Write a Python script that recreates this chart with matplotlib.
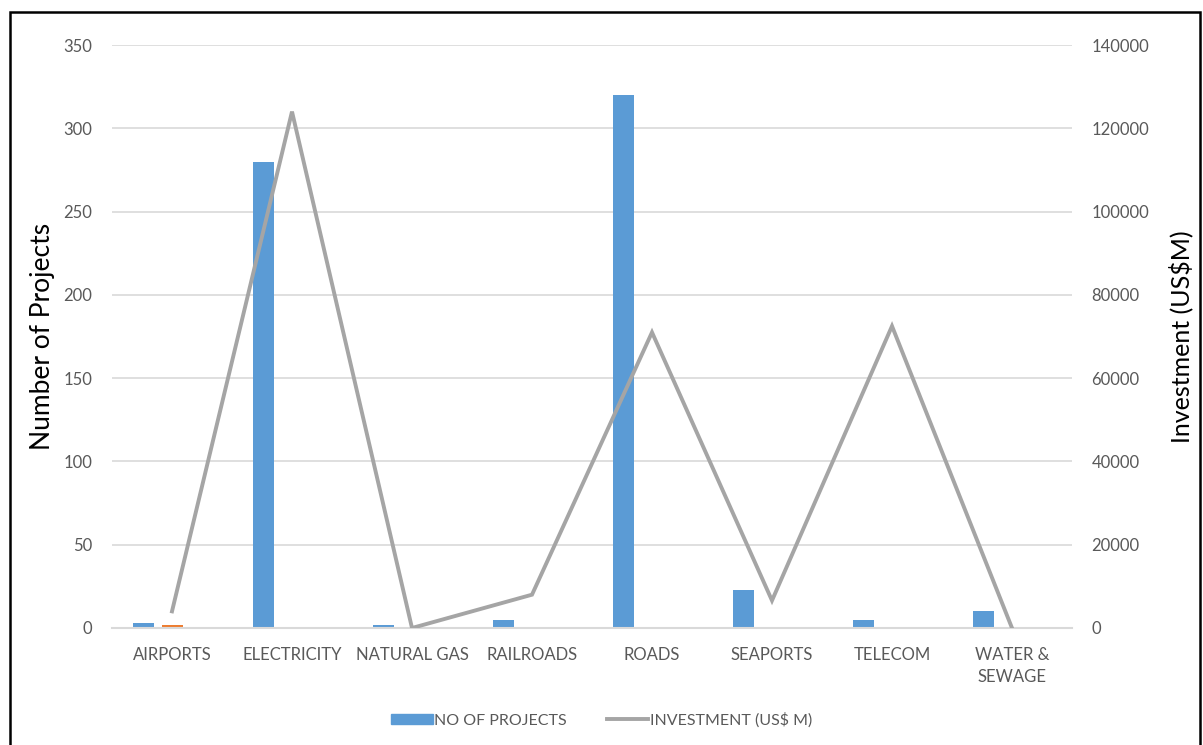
import matplotlib.pyplot as plt
import numpy as np
from matplotlib.lines import Line2D
from matplotlib.patches import Patch, Rectangle

sectors = ['AIRPORTS', 'ELECTRICITY', 'NATURAL GAS', 'RAILROADS', 'ROADS',
           'SEAPORTS', 'TELECOM', 'WATER &\nSEWAGE']
projects = [3, 280, 2, 5, 320, 23, 5, 10]
other = [2, 0, 0, 0, 0, 0, 0, 0]
investment = [4000, 124000, 0, 8000, 71000, 6600, 72500, 0]

BLUE = '#5b9bd5'
ORANGE = '#ed7d31'
GREY = '#a5a5a5'
TXT = '#595959'

plt.rcParams['font.family'] = ['Lato', 'DejaVu Sans']

fig = plt.figure(figsize=(12.03, 7.45), dpi=100)
ax = fig.add_axes([112 / 1203, 117 / 745, 960 / 1203, 583 / 745])
ax2 = ax.twinx()

x = np.arange(len(sectors))
w = 0.175
ax.bar(x - 0.235, projects, w, color=BLUE, zorder=2)
ax.bar(x, other, w, color=ORANGE, zorder=2)
ax2.plot(x, investment, color=GREY, linewidth=2.8, solid_joinstyle='miter', zorder=3)

ax.set_xlim(-0.5, len(sectors) - 0.5)
ax.set_ylim(0, 350)
ax.set_yticks(np.arange(0, 351, 50))
ax2.set_ylim(0, 140000)
ax2.set_yticks(np.arange(0, 140001, 20000))

ax.yaxis.grid(True, color='#d9d9d9', linewidth=1.2, zorder=0)
ax.set_axisbelow(True)
for a in (ax, ax2):
    for s in a.spines.values():
        s.set_visible(False)
    a.tick_params(length=0, labelsize=12, labelcolor=TXT)
ax.spines['bottom'].set_visible(True)
ax.spines['bottom'].set_color('#d9d9d9')
ax.spines['bottom'].set_linewidth(1.5)

ax.set_xticks(x)
ax.set_xticklabels(sectors, linespacing=1.45)
ax.tick_params(axis='x', pad=14)
ax.tick_params(axis='y', pad=14)
ax2.tick_params(axis='y', pad=14)

ax.set_ylabel('Number of Projects', fontsize=19, color='black', labelpad=6)
ax2.set_ylabel('Investment (US$M)', fontsize=18, color='black', labelpad=14)

handles = [Patch(color=BLUE), Line2D([], [], color=GREY, linewidth=2.8)]
fig.legend(handles, ['NO OF PROJECTS', 'INVESTMENT (US$ M)'], loc='center',
           bbox_to_anchor=(0.5, 25 / 745), ncol=2, frameon=False, fontsize=11.5,
           labelcolor=TXT, handlelength=2.6, handleheight=0.6, handletextpad=0.1,
           columnspacing=2.5)

# outer frame around the figure
fig.patches.append(Rectangle((10 / 1203, -0.05), 1190 / 1203, 1.05 - 12 / 745,
                             transform=fig.transFigure, fill=False,
                             edgecolor='black', linewidth=1.8))

fig.savefig('out.png', dpi=100)
